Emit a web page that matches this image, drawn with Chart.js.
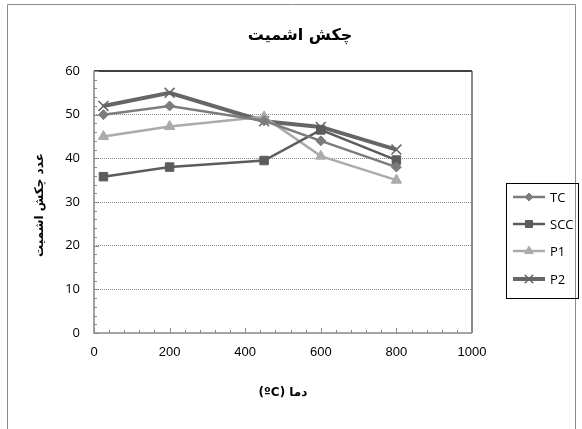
<!DOCTYPE html>
<html>
<head>
<meta charset="utf-8">
<script src="https://cdn.jsdelivr.net/npm/chart.js@4"></script>
<style>
  html, body { margin: 0; padding: 0; background: #fff; }
  #wrap { position: relative; width: 582px; height: 429px; }
</style>
</head>
<body>
<div id="wrap"><canvas id="chart" width="582" height="429"></canvas></div>
<script>
// temperatures (ºC)
const temps = [25, 200, 450, 600, 800];
const seriesNames = ["TC", "SCC", "P1", "P2"];
const tcValues = [50, 52, 48.6, 44, 38];
const sccValues = [35.8, 38, 39.5, 46.5, 39.6];
const p1Values = [45, 47.3, 49.5, 40.5, 35];
const p2Values = [52, 55, 48.5, 47.2, 42];
const yTicks = [0, 10, 20, 30, 40, 50, 60];
const xTicks = [0, 200, 400, 600, 800, 1000];

const chartTitle = "چکش اشمیت";
const xTitle = "دما (ºC)";
const yTitle = "عدد چکش اشمیت";

const colors = ["#7c7c7c", "#5c5c5c", "#ababab", "#666666"];
const widths = [2.5, 2.5, 2.5, 4];
const shapes = ["rectRot", "rect", "triangle", "crossRot"];
const radii = [5, 6, 6, 7];
const allValues = [tcValues, sccValues, p1Values, p2Values];

const datasets = seriesNames.map((name, i) => ({
  label: name,
  data: temps.map((t, j) => ({ x: t, y: allValues[i][j] })),
  borderColor: colors[i],
  backgroundColor: colors[i],
  borderWidth: widths[i],
  pointStyle: shapes[i],
  pointRadius: radii[i],
  pointBorderWidth: i === 3 ? 1.5 : 1,
  pointBorderColor: colors[i],
  pointBackgroundColor: colors[i],
  tension: 0
}));

const decor = {
  id: "decor",
  beforeDraw(chart) {
    const { ctx } = chart;
    ctx.save();
    ctx.strokeStyle = "#8c8c8c";
    ctx.lineWidth = 1;
    ctx.beginPath();
    ctx.moveTo(7.5, 429);
    ctx.lineTo(7.5, 4.5);
    ctx.lineTo(575.5, 4.5);
    ctx.lineTo(575.5, 429);
    ctx.stroke();
    ctx.restore();
  },
  afterDatasetsDraw(chart) {
    const { ctx, chartArea: a, scales } = chart;
    ctx.save();
    // plot frame
    ctx.lineWidth = 1.5;
    ctx.strokeStyle = "#000";
    ctx.beginPath();
    ctx.moveTo(a.left, a.top);
    ctx.lineTo(a.right, a.top);
    ctx.stroke();
    ctx.strokeStyle = "#666";
    ctx.beginPath();
    ctx.moveTo(a.right, a.top);
    ctx.lineTo(a.right, a.bottom);
    ctx.stroke();
    ctx.strokeStyle = "#888";
    ctx.beginPath();
    ctx.moveTo(a.left, a.top);
    ctx.lineTo(a.left, a.bottom);
    ctx.lineTo(a.right, a.bottom);
    ctx.stroke();
    // minor ticks
    ctx.lineWidth = 1;
    ctx.beginPath();
    for (let v = 0; v <= 60; v += 2) {
      const y = Math.round(scales.y.getPixelForValue(v)) + 0.5;
      ctx.moveTo(a.left, y);
      ctx.lineTo(a.left + (v % 10 === 0 ? 5 : 3), y);
    }
    for (let v = 0; v <= 1000; v += 40) {
      const x = Math.round(scales.x.getPixelForValue(v)) + 0.5;
      ctx.moveTo(x, a.bottom);
      ctx.lineTo(x, a.bottom - (v % 200 === 0 ? 5 : 3));
    }
    ctx.stroke();
    ctx.restore();
  },
  afterDraw(chart) {
    const { ctx } = chart;
    ctx.save();
    ctx.fillStyle = "#000";
    ctx.textAlign = "center";
    ctx.textBaseline = "middle";
    ctx.font = "bold 16px 'DejaVu Sans', sans-serif";
    ctx.fillText(chartTitle, 300, 36);
    ctx.font = "bold 12px 'DejaVu Sans', sans-serif";
    ctx.direction = "rtl";
    ctx.fillText(xTitle, 283, 393);
    ctx.translate(40, 205);
    ctx.rotate(-Math.PI / 2);
    ctx.fillText(yTitle, 0, 0);
    ctx.restore();

    // legend
    ctx.save();
    ctx.strokeStyle = "#000";
    ctx.lineWidth = 1;
    ctx.strokeRect(506.5, 183.5, 72, 115);
    const rows = [197, 224, 251, 279];
    chart.data.datasets.forEach((ds, i) => {
      const y = rows[i];
      ctx.strokeStyle = ds.borderColor;
      ctx.lineWidth = ds.borderWidth;
      ctx.beginPath();
      ctx.moveTo(513, y);
      ctx.lineTo(545, y);
      ctx.stroke();
      ctx.fillStyle = ds.backgroundColor;
      ctx.lineWidth = ds.pointBorderWidth;
      Chart.helpers.drawPoint(ctx, { pointStyle: ds.pointStyle, radius: ds.pointRadius - 1, borderWidth: ds.pointBorderWidth }, 529, y);
      ctx.fillStyle = "#000";
      ctx.font = "13px 'Open Sans', sans-serif";
      ctx.textAlign = "left";
      ctx.textBaseline = "middle";
      ctx.fillText(ds.label, 550, y + 1);
    });
    ctx.restore();
  }
};

new Chart(document.getElementById("chart"), {
  type: "line",
  data: { datasets },
  options: {
    responsive: false,
    animation: false,
    layout: { padding: { top: 71, right: 110, left: 0, bottom: 0 } },
    plugins: { legend: { display: false }, title: { display: false }, tooltip: { enabled: false } },
    scales: {
      x: {
        type: "linear",
        min: 0,
        max: 1000,
        afterFit: s => { s.height = 96; },
        afterBuildTicks: s => { s.ticks = xTicks.map(v => ({ value: v })); },
        grid: { display: false, drawTicks: false },
        border: { display: false },
        ticks: {
          padding: 12, color: "#000",
          callback: v => String(v),
          font: { family: "'Liberation Sans', Arial, sans-serif", size: 13 }
        }
      },
      y: {
        min: 0,
        max: 60,
        afterFit: s => { s.width = 94; },
        afterBuildTicks: s => { s.ticks = yTicks.map(v => ({ value: v })); },
        grid: {
          drawTicks: false,
          color: c => (c.tick && (c.tick.value === 0 || c.tick.value === 60)) ? "rgba(0,0,0,0)" : "#8a8a8a",
          lineWidth: 1
        },
        border: { display: false, dash: [1, 1] },
        ticks: { padding: 14, color: "#000", font: { family: "'Open Sans', sans-serif", size: 13 } }
      }
    }
  },
  plugins: [decor]
});
</script>
</body>
</html>
